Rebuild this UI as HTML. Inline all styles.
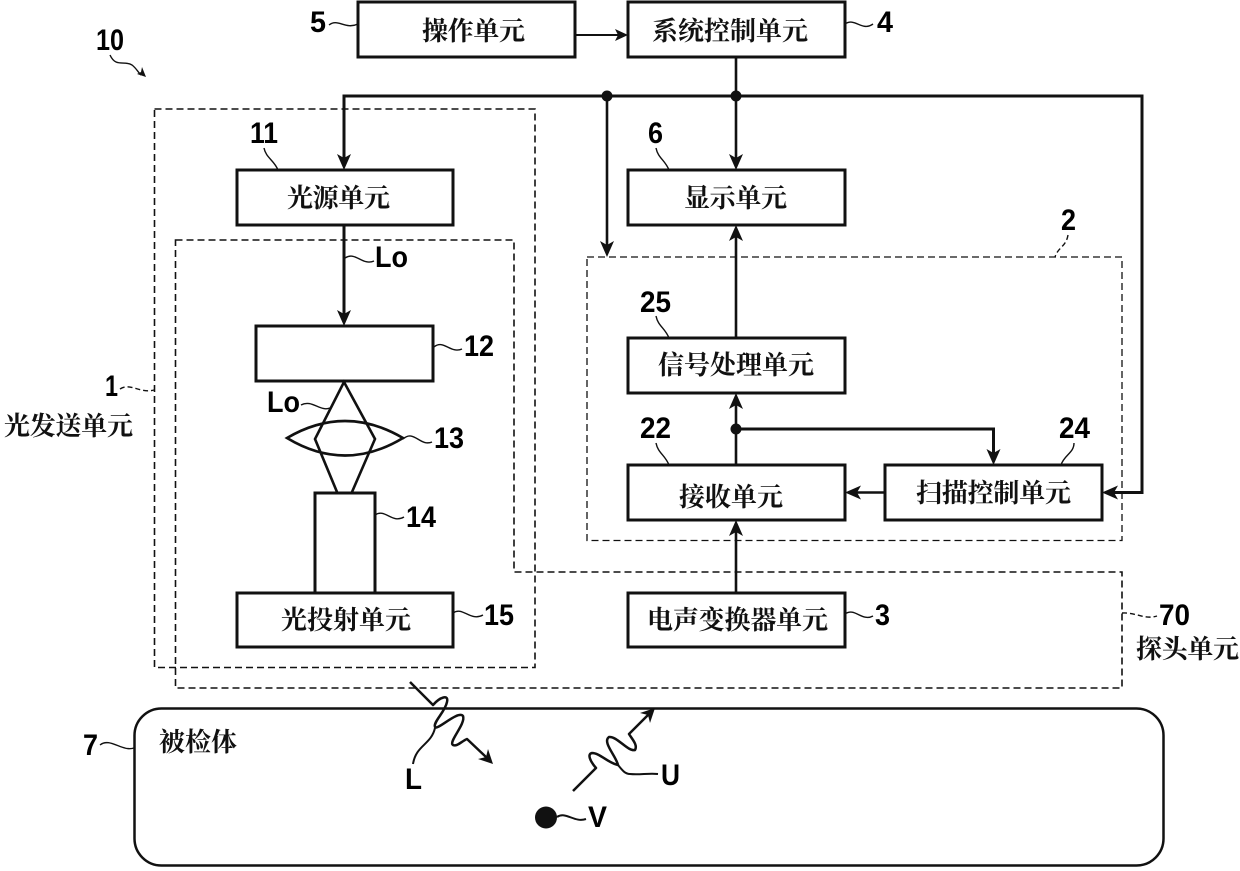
<!DOCTYPE html>
<html><head><meta charset="utf-8"><style>
html,body{margin:0;padding:0;background:#fff}
svg{display:block}
.c{font-family:"Liberation Serif","Noto Serif CJK SC",serif;font-size:26px;font-weight:700;fill:#111}
.n{font-family:"Liberation Sans",sans-serif;font-size:30px;font-weight:700;fill:#000}
.b{fill:#fff;stroke:#111;stroke-width:3}
.l{fill:none;stroke:#111;stroke-width:2.6}
.t{fill:none;stroke:#111;stroke-width:1.4}
.d{fill:none;stroke:#111;stroke-width:1.6;stroke-dasharray:7 4}
.w{fill:none;stroke:#111;stroke-width:2.5;stroke-linejoin:round}
.a{fill:#111}
</style></head><body>
<svg width="1240" height="871" viewBox="0 0 1240 871" xmlns="http://www.w3.org/2000/svg">
<!-- dashed groups -->
<rect class="d" x="154.5" y="109" width="380.5" height="558.5"/>
<path class="d" d="M175.5 240H514V572H1122V688H175.5Z"/>
<rect class="d" style="stroke-width:1.3" x="587" y="257" width="535" height="283.5"/>

<!-- connectors -->
<path class="l" style="stroke-width:2" d="M575 35H622"/>
<path class="a" d="M628 35l-13-6 3 6-3 6z"/>
<path class="l" style="stroke-width:3" d="M344 163V96H1142V492.5H1110"/>
<path class="a" d="M344 170l-7-16 7 4 7-4z"/>
<path class="l" d="M736 57V163"/>
<path class="a" d="M736 170l-7-16 7 4 7-4z"/>
<path class="l" d="M607 96V250"/>
<path class="a" d="M607 257l-7-16 7 4 7-4z"/>
<circle class="a" cx="607" cy="96" r="5.5"/>
<circle class="a" cx="736" cy="96" r="5.5"/>
<path class="l" style="stroke-width:3" d="M344 225V319"/>
<path class="a" d="M344 326l-7-16 7 4 7-4z"/>
<path class="l" d="M736 338V232"/>
<path class="a" d="M736 225l-7 16 7-4 7 4z"/>
<path class="l" d="M736 465V400"/>
<path class="a" d="M736 393l-7 16 7-4 7 4z"/>
<circle class="a" cx="736" cy="429" r="5.5"/>
<path class="l" style="stroke-width:3" d="M736 429H993.5V458"/>
<path class="a" d="M993.5 465l-7-16 7 4 7-4z"/>
<path class="l" d="M885 492.5H852"/>
<path class="a" d="M845 492.5l16-7-4 7 4 7z"/>
<path class="a" d="M1102 492.5l16-7-4 7 4 7z"/>
<path class="l" d="M736 593V527"/>
<path class="a" d="M736 520l-7 16 7-4 7 4z"/>

<!-- boxes -->
<rect class="b" x="358" y="2" width="217" height="55"/>
<rect class="b" x="628" y="2" width="217" height="55"/>
<rect class="b" x="237" y="170" width="216" height="55"/>
<rect class="b" x="628" y="170" width="217" height="55"/>
<rect class="b" x="256" y="326" width="177" height="55"/>
<rect class="b" x="628" y="338" width="217" height="55"/>
<rect class="b" x="628" y="465" width="217" height="55"/>
<rect class="b" x="885" y="465" width="217" height="55"/>
<rect class="b" x="628" y="593" width="217" height="54"/>
<rect class="b" x="315" y="493" width="60" height="100"/>
<rect class="b" x="237" y="593" width="216" height="54"/>

<!-- lens -->
<path class="l" d="M287 438Q345 404 403 438Q345 473 287 438Z"/>
<path class="l" d="M337 492L315 439L344 382L375 439L352 492"/>

<!-- subject -->
<rect x="134.5" y="708.5" width="1029" height="157" rx="27" ry="27" fill="none" stroke="#111" stroke-width="2.5"/>

<!-- waves -->
<path class="w" d="M410 682L433 705C440 697 449 694 447 702C445 712 433 722 435 727C437 731 458 710 463 716C466 724 448 742 453 745C457 747 462 741 467 739L486 757"/>
<path class="a" d="M493 764l-15-5 8-2 2-8z"/>
<path class="w" d="M573 791L596 768C590 761 587 754 592 753C600 753 608 763 618 765C616 756 602 742 609 737C617 736 628 752 635 750C638 745 632 739 629 734L649 714"/>
<path class="a" d="M655 708l-5 15-2-8-8-2z"/>
<circle class="a" cx="546" cy="817.5" r="11"/>

<!-- leaders -->
<path class="t" d="M110 55C116 68 124 60 132 65C136 68 138 72 141 75"/>
<path class="a" d="M146 77l-9-3 4-2 1-5z"/>
<path class="t" d="M329 25C338 18 345 30 358 24"/>
<path class="t" d="M845 24C855 17 862 32 873 24"/>
<path class="t" d="M264 148C266 158 274 160 278 170"/>
<path class="t" d="M656 148C658 158 665 160 669 170"/>
<path class="t" d="M656 316C658 326 665 328 669 338"/>
<path class="t" d="M656 443C658 453 665 455 669 465"/>
<path class="t" d="M1074 443C1074 453 1064 455 1061 465"/>
<path class="t" style="stroke-dasharray:5 3" d="M1068 235C1066 247 1058 247 1055 257"/>
<path class="t" d="M434 347C444 339 450 354 462 349"/>
<path class="t" d="M403 439C414 429 420 447 432 442"/>
<path class="t" d="M375 515C385 508 392 524 404 517"/>
<path class="t" d="M453 613C463 606 470 622 483 615"/>
<path class="t" d="M845 614C855 607 862 622 873 616"/>
<path class="t" style="stroke-dasharray:5 3" d="M1122 613C1135 612 1145 620 1157 616"/>
<path class="t" style="stroke-dasharray:5 3" d="M120 389C130 382 140 394 154 390"/>
<path class="t" d="M100 745C110 737 122 752 134 748"/>
<path class="t" d="M345 258C356 251 362 266 374 261"/>
<path class="t" d="M301 405C312 399 320 412 330 408"/>
<path class="t" style="stroke-width:2" d="M435 728C431 745 416 745 413 764"/>
<path class="t" style="stroke-width:2" d="M618 765C622 770 625 774 630 774C640 775 648 773 658 774"/>
<path class="t" style="stroke-width:2" d="M557 817C566 811 574 823 586 819"/>

<!-- CJK labels -->
<text class="c" x="422" y="40" textLength="103" lengthAdjust="spacing">操作单元</text>
<text class="c" x="652" y="40" textLength="156" lengthAdjust="spacing">系统控制单元</text>
<text class="c" x="287" y="207" textLength="103" lengthAdjust="spacing">光源单元</text>
<text class="c" x="684" y="207" textLength="103" lengthAdjust="spacing">显示单元</text>
<text class="c" x="658" y="374" textLength="156" lengthAdjust="spacing">信号处理单元</text>
<text class="c" x="679" y="506" textLength="104" lengthAdjust="spacing">接收单元</text>
<text class="c" x="916" y="502" textLength="155" lengthAdjust="spacing">扫描控制单元</text>
<text class="c" x="647" y="629" textLength="181" lengthAdjust="spacing">电声变换器单元</text>
<text class="c" x="281" y="629" textLength="130" lengthAdjust="spacing">光投射单元</text>
<text class="c" x="4" y="435" textLength="129" lengthAdjust="spacing">光发送单元</text>
<text class="c" x="1136" y="658" textLength="103" lengthAdjust="spacing">探头单元</text>
<text class="c" x="159" y="751" textLength="78" lengthAdjust="spacing">被检体</text>

<!-- numerals -->
<text class="n" x="96" y="50" textLength="28" lengthAdjust="spacingAndGlyphs">10</text>
<text class="n" x="310" y="32" textLength="16" lengthAdjust="spacingAndGlyphs">5</text>
<text class="n" x="877" y="32" textLength="16" lengthAdjust="spacingAndGlyphs">4</text>
<text class="n" x="250" y="143" textLength="28" lengthAdjust="spacingAndGlyphs">11</text>
<text class="n" x="648" y="143" textLength="15" lengthAdjust="spacingAndGlyphs">6</text>
<text class="n" x="1061" y="230" textLength="15" lengthAdjust="spacingAndGlyphs">2</text>
<text class="n" x="640" y="312" textLength="31" lengthAdjust="spacingAndGlyphs">25</text>
<text class="n" x="640" y="438" textLength="31" lengthAdjust="spacingAndGlyphs">22</text>
<text class="n" x="1059" y="438" textLength="31" lengthAdjust="spacingAndGlyphs">24</text>
<text class="n" x="464" y="356" textLength="30" lengthAdjust="spacingAndGlyphs">12</text>
<text class="n" x="434" y="448" textLength="30" lengthAdjust="spacingAndGlyphs">13</text>
<text class="n" x="406" y="527" textLength="30" lengthAdjust="spacingAndGlyphs">14</text>
<text class="n" x="484" y="625" textLength="30" lengthAdjust="spacingAndGlyphs">15</text>
<text class="n" x="875" y="625" textLength="15" lengthAdjust="spacingAndGlyphs">3</text>
<text class="n" x="1159" y="625" textLength="31" lengthAdjust="spacingAndGlyphs">70</text>
<text class="n" x="105" y="396" textLength="13" lengthAdjust="spacingAndGlyphs">1</text>
<text class="n" x="83" y="755" textLength="15" lengthAdjust="spacingAndGlyphs">7</text>
<text class="n" x="375" y="267" textLength="33" lengthAdjust="spacingAndGlyphs">Lo</text>
<text class="n" x="267" y="412" textLength="33" lengthAdjust="spacingAndGlyphs">Lo</text>
<text class="n" x="405" y="789" textLength="17" lengthAdjust="spacingAndGlyphs">L</text>
<text class="n" x="661" y="785" textLength="19" lengthAdjust="spacingAndGlyphs">U</text>
<text class="n" x="588" y="827" textLength="19" lengthAdjust="spacingAndGlyphs">V</text>
</svg>
</body></html>
